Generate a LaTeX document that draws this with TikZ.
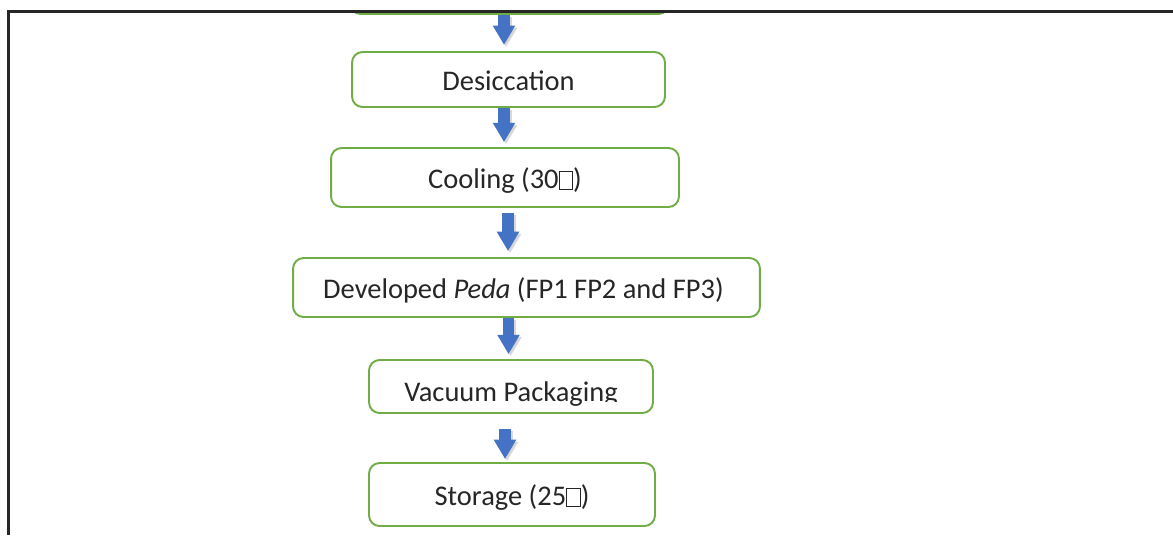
\documentclass[tikz,border=0pt]{standalone}
\usepackage{fontspec}
\usepackage{trimclip}
\setmainfont{Carlito}
\usetikzlibrary{arrows.meta}

\definecolor{boxgreen}{HTML}{70AD47}
\definecolor{arrowblue}{HTML}{4472C4}
\definecolor{textgray}{HTML}{262626}

% stand-in glyph for the unit sign
\newcommand\tofu{{\setlength\fboxsep{0pt}\setlength\fboxrule{0.5pt}\fbox{\rule{0pt}{0.6em}\hspace{0.45em}}}}
% a g whose tail is cut off
\newcommand\cutg{\clipbox{0pt 0.19em 0pt 0pt}{g}}

\tikzset{
  stage/.style={draw=boxgreen, line width=1.1pt, rounded corners=6pt, fill=white,
    text=textgray, font=\fontsize{16.2}{19}\selectfont, inner sep=0pt,
    text height=12.6pt, text depth=0pt},
  flowarrow/.style={draw=arrowblue, line width=6.4pt,
    -{Triangle[width=12pt,length=11pt]}},
  flowshadow/.style={draw=gray!60, opacity=0.5, line width=6.4pt,
    -{Triangle[width=12pt,length=11pt]}, transform canvas={shift={(1.2pt,-1.2pt)}}}
}

\begin{document}
\begin{tikzpicture}[x=0.02cm,y=-0.02cm]
\useasboundingbox (0,0) rectangle (1173,535);
\fill[white] (0,0) rectangle (1173,535);

\begin{scope}
\clip (8.5,11.5) rectangle (1173,535);
\node[stage, minimum width=6.38cm, minimum height=1.12cm] (prev) at (509.5,-14) {};
\node[stage, minimum width=6.26cm, minimum height=1.1cm] (desc) at (508.5,79.5) {Desiccation};
\node[stage, minimum width=6.96cm, minimum height=1.18cm] (cool) at (505,177.5) {Cooling (30\tofu)};
\node[stage, minimum width=9.34cm, minimum height=1.18cm] (dev) at (526.5,287.5) {\hspace*{-3.5pt}Developed \textit{Peda} (FP1 FP2 and FP3)};
\node[stage, minimum width=5.68cm, minimum height=1.06cm] (vac) at (511,386.5) {\raisebox{-2pt}{Vacuum Packagin\cutg}};
\node[stage, minimum width=5.72cm, minimum height=1.26cm] (stor) at (512,494.5) {Storage (25\tofu)};

% arrows between the stages
\foreach \a/\b/\x/\s/\e in {prev/desc/504/0pt/3.5pt, desc/cool/504/0pt/2.8pt, cool/dev/508/2.8pt/3.4pt,
                           dev/vac/508.5/0pt/2.8pt, vac/stor/505/8.5pt/1.7pt} {
  \draw[flowshadow, shorten <=\s, shorten >=\e] (\a.south -| \x,0) -- (\b.north -| \x,0);
  \draw[flowarrow, shorten <=\s, shorten >=\e] (\a.south -| \x,0) -- (\b.north -| \x,0);
}
\end{scope}

% outer frame (top and left only)
\draw[line width=1.2pt, black!85] (1173,11.5) -- (8.5,11.5) -- (8.5,535);
\end{tikzpicture}
\end{document}
